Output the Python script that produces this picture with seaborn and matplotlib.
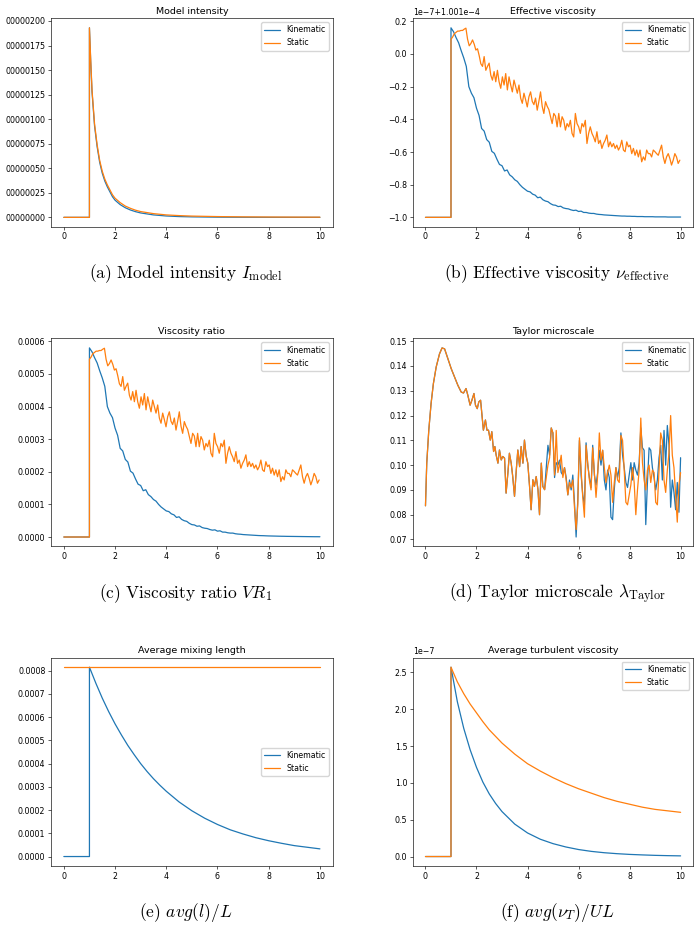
import numpy as np
import pandas as pd
import matplotlib
matplotlib.use("Agg")
import matplotlib.pyplot as plt
import seaborn as sns
from matplotlib.ticker import MultipleLocator, FuncFormatter

sns.set_style("ticks", rc={"axes.edgecolor": "black", "xtick.color": "black",
                           "ytick.color": "black", "text.color": "black",
                           "axes.labelcolor": "black"})
plt.rcParams["font.family"] = ["DejaVu Sans"]
plt.rcParams["mathtext.fontset"] = "cm"

RUNS = ["Kinematic", "Static"]
COLORS = ["#1f77b4", "#ff7f0e"]

# (a) model intensity, units of 1e-8
int_t = [0.0, 1.0, 1.0, 1.05, 1.1, 1.2, 1.3, 1.4, 1.5, 1.6, 1.7, 1.8, 1.9, 2.0, 2.2, 2.4,
         2.6, 2.8, 3.0, 3.5, 4.0, 4.5, 5.0, 6.0, 7.0, 8.0, 9.0, 10.0]
int_kin = [0, 0, 193, 158, 128, 93, 72, 56, 45, 37, 31, 26, 21, 17.5, 13, 9.8,
           7.5, 5.8, 4.5, 2.5, 1.4, 0.8, 0.5, 0.2, 0.08, 0.03, 0.01, 0.0]
int_sta = [0, 0, 193, 160, 130, 95, 74, 58, 47, 39, 33, 28, 23, 19.5, 15, 11.5,
           9.2, 7.3, 5.9, 3.8, 2.5, 1.8, 1.3, 0.8, 0.5, 0.35, 0.25, 0.2]

# time grids for the noisy runs
t_coarse = [0.0, 1.0] + list(np.round(1.0 + 0.1 * np.arange(91), 2))
t_fine = [0.0, 1.0] + list(np.round(1.0 + 0.065 * np.arange(139), 3))

# (b) effective viscosity, units of 1e-7 around 1.001e-4
eff_kin = [-1.0, -1.0,
           0.160, 0.136, 0.100, 0.068, 0.020, -0.024, -0.076, -0.200, -0.240, -0.268,
           -0.332, -0.376, -0.456, -0.472, -0.524, -0.540, -0.596, -0.608, -0.644, -0.676,
           -0.684, -0.716, -0.710, -0.740, -0.752, -0.770, -0.780, -0.800, -0.816, -0.828,
           -0.840, -0.844, -0.858, -0.864, -0.880, -0.876, -0.892, -0.900, -0.904, -0.916,
           -0.924, -0.926, -0.934, -0.932, -0.942, -0.946, -0.948, -0.954, -0.958, -0.956,
           -0.964, -0.962, -0.970, -0.970, -0.974, -0.976, -0.976, -0.980, -0.982, -0.983,
           -0.985, -0.986, -0.987, -0.988, -0.989, -0.990, -0.991, -0.992, -0.992, -0.993,
           -0.993, -0.994, -0.994, -0.995, -0.995, -0.995, -0.996, -0.996, -0.996, -0.996,
           -0.997, -0.997, -0.997, -0.997, -0.997, -0.998, -0.998, -0.998, -0.998, -0.998,
           -0.998]
eff_sta = [-1.0, -1.0,
           0.090, 0.104, 0.124, 0.132, 0.140, 0.140, 0.144, 0.144, 0.152, 0.158,
           0.090, 0.050, 0.064, 0.086, 0.060, 0.024, 0.032, -0.010, -0.060, -0.076,
           -0.016, -0.100, -0.076, -0.056, -0.130, -0.160, -0.108, -0.170, -0.100, -0.170,
           -0.210, -0.140, -0.190, -0.120, -0.220, -0.140, -0.190, -0.232, -0.160, -0.200,
           -0.240, -0.190, -0.270, -0.302, -0.240, -0.280, -0.324, -0.262, -0.232, -0.290,
           -0.310, -0.270, -0.344, -0.290, -0.232, -0.320, -0.364, -0.292, -0.320, -0.340,
           -0.384, -0.426, -0.364, -0.380, -0.446, -0.364, -0.446, -0.384, -0.406, -0.466,
           -0.426, -0.446, -0.406, -0.486, -0.508, -0.364, -0.426, -0.446, -0.486, -0.426,
           -0.446, -0.406, -0.548, -0.486, -0.446, -0.486, -0.508, -0.538, -0.476, -0.548,
           -0.528, -0.578, -0.548, -0.528, -0.496, -0.568, -0.538, -0.568, -0.548, -0.578,
           -0.558, -0.588, -0.568, -0.528, -0.588, -0.598, -0.538, -0.568, -0.558, -0.610,
           -0.578, -0.620, -0.588, -0.630, -0.588, -0.660, -0.630, -0.650, -0.588, -0.610,
           -0.610, -0.630, -0.588, -0.598, -0.610, -0.620, -0.588, -0.558, -0.630, -0.670,
           -0.630, -0.610, -0.640, -0.680, -0.650, -0.610, -0.630, -0.670, -0.650]

# (c) viscosity ratio, units of 1e-4
vr_kin = [0.0, 0.0,
          5.80, 5.68, 5.50, 5.34, 5.10, 4.88, 4.62, 4.00, 3.80, 3.66,
          3.34, 3.12, 2.72, 2.64, 2.38, 2.30, 2.02, 1.96, 1.78, 1.62,
          1.58, 1.42, 1.45, 1.30, 1.24, 1.15, 1.10, 1.00, 0.92, 0.86,
          0.80, 0.78, 0.71, 0.68, 0.60, 0.62, 0.54, 0.50, 0.48, 0.42,
          0.38, 0.37, 0.33, 0.34, 0.29, 0.27, 0.26, 0.23, 0.21, 0.22,
          0.18, 0.19, 0.15, 0.15, 0.13, 0.12, 0.12, 0.10, 0.09, 0.085,
          0.075, 0.07, 0.065, 0.06, 0.055, 0.05, 0.045, 0.042, 0.04, 0.036,
          0.033, 0.031, 0.029, 0.027, 0.025, 0.023, 0.022, 0.020, 0.019, 0.018,
          0.017, 0.016, 0.015, 0.014, 0.013, 0.012, 0.011, 0.010, 0.009, 0.009,
          0.008]
vr_sta = [0.0, 0.0,
          5.45, 5.52, 5.62, 5.66, 5.70, 5.70, 5.72, 5.72, 5.76, 5.79,
          5.45, 5.25, 5.32, 5.43, 5.30, 5.12, 5.16, 4.95, 4.70, 4.62,
          4.92, 4.50, 4.62, 4.72, 4.35, 4.20, 4.46, 4.15, 4.50, 4.15,
          3.95, 4.30, 4.05, 4.40, 3.90, 4.30, 4.05, 3.84, 4.20, 4.00,
          3.80, 4.05, 3.65, 3.49, 3.80, 3.60, 3.38, 3.69, 3.84, 3.55,
          3.45, 3.65, 3.28, 3.55, 3.84, 3.40, 3.18, 3.54, 3.40, 3.30,
          3.08, 2.87, 3.18, 3.10, 2.77, 3.18, 2.77, 3.08, 2.97, 2.67,
          2.87, 2.77, 2.97, 2.57, 2.46, 3.18, 2.87, 2.77, 2.57, 2.87,
          2.77, 2.97, 2.26, 2.57, 2.77, 2.57, 2.46, 2.31, 2.62, 2.26,
          2.36, 2.11, 2.26, 2.36, 2.52, 2.16, 2.31, 2.16, 2.26, 2.11,
          2.21, 2.06, 2.16, 2.36, 2.06, 2.01, 2.31, 2.16, 2.21, 1.95,
          2.11, 1.90, 2.06, 1.85, 2.06, 1.70, 1.85, 1.75, 2.06, 1.95,
          1.95, 1.85, 2.06, 2.01, 1.95, 1.90, 2.06, 2.21, 1.85, 1.65,
          1.85, 1.95, 1.80, 1.60, 1.75, 1.95, 1.85, 1.65, 1.75]

# (d) Taylor microscale
taylor_t_common = [0.00, 0.05, 0.13, 0.22, 0.31, 0.42, 0.55, 0.65, 0.75, 0.88,
                   1.01, 1.14, 1.27, 1.40, 1.49, 1.59, 1.66, 1.75, 1.82, 1.90,
                   1.96, 2.03, 2.09, 2.16, 2.22, 2.27, 2.35, 2.41, 2.47, 2.54,
                   2.60, 2.67, 2.72, 2.77, 2.84, 2.90, 2.97, 3.03, 3.10, 3.16,
                   3.23, 3.29, 3.36, 3.42, 3.49, 3.56, 3.62, 3.69, 3.75, 3.82,
                   3.88, 3.95, 4.01, 4.08, 4.14, 4.21, 4.27, 4.34, 4.41, 4.47,
                   4.54, 4.60, 4.67]
taylor_common = [0.0836, 0.1008, 0.1141, 0.1249, 0.1329, 0.1396, 0.1449, 0.1473, 0.1469, 0.1429,
                 0.1389, 0.1356, 0.1322, 0.1295, 0.1291, 0.1309, 0.1282, 0.1242, 0.1262, 0.1289,
                 0.1242, 0.1228, 0.1255, 0.1262, 0.1195, 0.1141, 0.1182, 0.1141, 0.1141, 0.1101,
                 0.1135, 0.1055, 0.1075, 0.1041, 0.1008, 0.1061, 0.1021, 0.1035, 0.1028, 0.0887,
                 0.0968, 0.1048, 0.1008, 0.0954, 0.0874, 0.0981, 0.1061, 0.0994, 0.1075, 0.1008,
                 0.1101, 0.1035, 0.1008, 0.0914, 0.0820, 0.0941, 0.0914, 0.0954, 0.0901, 0.0800,
                 0.1008, 0.0914, 0.0901]
taylor_t_tail = list(np.round(4.80 + 0.065 * np.arange(81), 3))
taylor_kin_tail = [0.108, 0.104, 0.115, 0.113, 0.095, 0.101, 0.100, 0.102, 0.097, 0.096,
                   0.099, 0.095, 0.088, 0.094, 0.090, 0.096, 0.085, 0.071, 0.086, 0.110,
                   0.096, 0.088, 0.084, 0.109, 0.100, 0.095, 0.091, 0.108, 0.096, 0.092,
                   0.097, 0.106, 0.100, 0.106, 0.094, 0.090, 0.098, 0.095, 0.079, 0.078,
                   0.090, 0.099, 0.095, 0.099, 0.113, 0.104, 0.099, 0.093, 0.091, 0.096,
                   0.101, 0.094, 0.101, 0.098, 0.096, 0.101, 0.115, 0.107, 0.106, 0.076,
                   0.093, 0.107, 0.106, 0.099, 0.095, 0.090, 0.094, 0.103, 0.108, 0.094,
                   0.114, 0.100, 0.116, 0.108, 0.083, 0.094, 0.089, 0.082, 0.093, 0.081,
                   0.103]
taylor_sta_tail = [0.100, 0.103, 0.115, 0.113, 0.096, 0.114, 0.097, 0.100, 0.104, 0.095,
                   0.099, 0.094, 0.088, 0.093, 0.091, 0.094, 0.083, 0.074, 0.084, 0.111,
                   0.098, 0.087, 0.079, 0.108, 0.101, 0.094, 0.090, 0.107, 0.097, 0.087,
                   0.096, 0.113, 0.102, 0.106, 0.099, 0.093, 0.097, 0.100, 0.096, 0.085,
                   0.093, 0.099, 0.094, 0.093, 0.112, 0.110, 0.098, 0.085, 0.084, 0.088,
                   0.092, 0.099, 0.093, 0.080, 0.090, 0.098, 0.119, 0.101, 0.094, 0.090,
                   0.098, 0.100, 0.093, 0.098, 0.097, 0.085, 0.084, 0.098, 0.113, 0.110,
                   0.094, 0.089, 0.098, 0.105, 0.120, 0.104, 0.099, 0.088, 0.077, 0.092,
                   0.097]

# (e) average mixing length, units of 1e-4
mix_t_kin = [0.0, 1.0, 1.0, 1.25, 1.5, 1.75, 2.0, 2.25, 2.5, 2.75, 3.0, 3.25, 3.5, 3.75, 4.0,
             4.5, 5.0, 5.5, 6.0, 6.5, 7.0, 7.5, 8.0, 8.5, 9.0, 9.5, 10.0]
mix_kin = [0, 0, 8.15, 7.46, 6.82, 6.24, 5.71, 5.23, 4.78, 4.38, 4.00, 3.66, 3.35, 3.07, 2.81,
           2.35, 1.97, 1.65, 1.38, 1.15, 0.97, 0.81, 0.68, 0.57, 0.47, 0.40, 0.33]
mix_t_sta = [0.0, 10.0]
mix_sta = [8.15, 8.15]

# (f) average turbulent viscosity, units of 1e-7
nut_t = [0.0, 1.0, 1.0, 1.25, 1.5, 1.75, 2.0, 2.25, 2.5, 2.75, 3.0, 3.5, 4.0, 4.5, 5.0,
         5.5, 6.0, 6.5, 7.0, 7.5, 8.0, 8.5, 9.0, 9.5, 10.0]
nut_kin = [0, 0, 2.57, 2.10, 1.74, 1.45, 1.21, 1.01, 0.85, 0.72, 0.61, 0.44, 0.32, 0.235, 0.175,
           0.13, 0.095, 0.07, 0.052, 0.039, 0.029, 0.022, 0.016, 0.012, 0.009]
nut_sta = [0, 0, 2.57, 2.37, 2.21, 2.07, 1.95, 1.83, 1.72, 1.63, 1.54, 1.39, 1.26, 1.16, 1.07,
           0.99, 0.92, 0.86, 0.80, 0.75, 0.71, 0.67, 0.64, 0.62, 0.60]


def two_runs(t_kin, v_kin, t_sta, v_sta, scale=1.0):
    kin = pd.DataFrame({"t": t_kin, "v": np.asarray(v_kin, float) * scale, "run": RUNS[0]})
    sta = pd.DataFrame({"t": t_sta, "v": np.asarray(v_sta, float) * scale, "run": RUNS[1]})
    return pd.concat([kin, sta], ignore_index=True)


panels = [
    dict(df=two_runs(int_t, int_kin, int_t, int_sta),
         title="Model intensity", step=25, loc="upper right",
         caption=r"(a) Model intensity $I_{\mathrm{model}}$"),
    dict(df=two_runs(t_coarse, eff_kin, t_fine, eff_sta),
         title="Effective viscosity", step=0.2, loc="upper right",
         caption=r"(b) Effective viscosity $\nu_{\mathrm{effective}}$"),
    dict(df=two_runs(t_coarse, vr_kin, t_fine, vr_sta, 1e-4),
         title="Viscosity ratio", step=1e-4, loc="upper right",
         caption=r"(c) Viscosity ratio $VR_1$"),
    dict(df=two_runs(taylor_t_common + taylor_t_tail, taylor_common + taylor_kin_tail,
                     taylor_t_common + taylor_t_tail, taylor_common + taylor_sta_tail),
         title="Taylor microscale", step=0.01, loc="upper right",
         caption=r"(d) Taylor microscale $\lambda_{\mathrm{Taylor}}$"),
    dict(df=two_runs(mix_t_kin, mix_kin, mix_t_sta, mix_sta, 1e-4),
         title="Average mixing length", step=1e-4, loc="center right",
         caption=r"(e) $avg(l)/L$"),
    dict(df=two_runs(nut_t, nut_kin, nut_t, nut_sta, 1e-7),
         title="Average turbulent viscosity", step=0.5e-7, loc="upper right",
         caption=r"(f) $avg(\nu_T)/UL$"),
]

# axes boxes in figure fractions (left col / right col, three rows)
cols = [(0.0729, 0.4024), (0.5896, 0.4009)]
rows = [(0.7553, 0.2249), (0.4105, 0.2244), (0.0658, 0.2247)]
cap_x = [186 / 700, 557 / 700]
cap_y = [1 - 278 / 927, 1 - 598 / 927, 1 - 917 / 927]

fig = plt.figure(figsize=(7, 9.27), dpi=100)
for i, p in enumerate(panels):
    r, c = divmod(i, 2)
    ax = fig.add_axes([cols[c][0], rows[r][0], cols[c][1], rows[r][1]])
    sns.lineplot(data=p["df"], x="t", y="v", hue="run", hue_order=RUNS, palette=COLORS,
                 estimator=None, sort=False, linewidth=0.9, ax=ax)
    ax.set_xlabel("")
    ax.set_ylabel("")
    ax.set_title(p["title"], fontsize=6.8, pad=3.4)
    ax.xaxis.set_major_locator(MultipleLocator(2))
    ax.yaxis.set_major_locator(MultipleLocator(p["step"]))
    ax.tick_params(labelsize=5.7, length=2.0, width=0.45, pad=2.0)
    ax.yaxis.get_offset_text().set_fontsize(5.7)
    for s in ax.spines.values():
        s.set_linewidth(0.45)
    sns.move_legend(ax, p["loc"], title=None, fontsize=5.7, frameon=True,
                    borderaxespad=0.5)
    fig.text(cap_x[c], cap_y[r], p["caption"], ha="center", va="baseline",
             fontsize=12.5, family="cmr10")
    if i == 0:
        ax.yaxis.set_major_formatter(FuncFormatter(lambda v, pos: f"{v:08.0f}"))
    if i == 1:
        ax.text(0, 1.006, "1e\u22127+1.001e\u22124", transform=ax.transAxes,
                fontsize=5.7, ha="left", va="bottom")

fig.savefig("out.png", dpi=100)
